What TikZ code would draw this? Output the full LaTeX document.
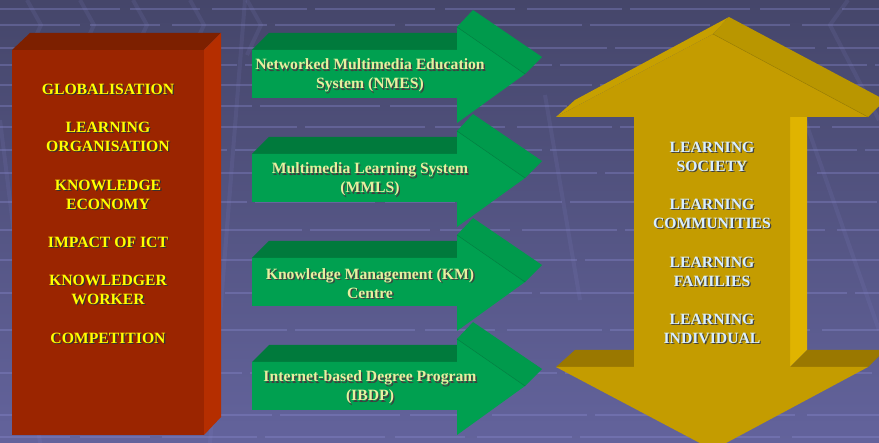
\documentclass[tikz,border=0pt]{standalone}
\usepackage{fontspec}
\setmainfont{Liberation Serif}
\definecolor{bgtop}{HTML}{45466A}
\definecolor{bgbot}{HTML}{63639C}
\definecolor{gridc}{HTML}{8A8AD0}
\definecolor{redfront}{HTML}{9B2500}
\definecolor{redtop}{HTML}{7D2000}
\definecolor{redside}{HTML}{B52E00}
\definecolor{grfront}{HTML}{00A050}
\definecolor{grtop}{HTML}{007A3C}
\definecolor{grside}{HTML}{009A4C}
\definecolor{yefront}{HTML}{C49C00}
\definecolor{yeleft}{HTML}{C7A000}
\definecolor{yeright}{HTML}{B99600}
\definecolor{yeside}{HTML}{E0B400}
\definecolor{yelow}{HTML}{9A7800}
\definecolor{redtxt}{HTML}{FFFF00}
\definecolor{grtxt}{HTML}{E6F0A0}
\definecolor{yetxt}{HTML}{D8EEFF}
\newcommand\shtxt[5]{%
  \node[txt,text=#4,xshift=1.3pt,yshift=-1.3pt] at (#2) {#5};
  \node[txt,text=#3] (#1) at (#2) {#5};}
\begin{document}
\begin{tikzpicture}[x=1pt,y=-1pt,
  txt/.style={font=\bfseries\fontsize{15.7}{19}\selectfont,align=center,inner sep=0pt,anchor=center},
  gridline/.style={line width=2.4pt,draw=gridc,draw opacity=0.35},
  diagline/.style={line width=4pt,draw=gridc,draw opacity=0.12}]
\useasboundingbox (0,0) rectangle (879,443);
% background
\shade[top color=bgtop,bottom color=bgbot] (0,0) rectangle (879,443);
\foreach \yy/\ph in {9/0,25/40,48/15,65/70,85/30,106/55,127/10,150/80,173/25,202/60,230/5,260/45,293/90,330/20,373/65,415/35,437/50}{
  \draw[gridline,dash pattern=on 120pt off 10pt on 70pt off 12pt on 95pt off 8pt,dash phase=\ph pt] (0,\yy) -- (879,\yy);
}
\foreach \xx in {27,80,133,190,247}{
  \draw[diagline] (\xx,0) -- (\xx+14,25) -- (\xx,55);
}
\draw[diagline] (545,95) -- (580,300);
\draw[diagline] (848,0) -- (830,25) -- (879,120);
\draw[diagline] (805,120) -- (879,330);
\draw[diagline] (245,0) -- (210,443);
\draw[diagline] (0,120) -- (40,443);
% red box
\fill[redtop] (12,50) -- (30,33) -- (221,33) -- (204,50) -- cycle;
\fill[redside] (204,50) -- (221,33) -- (221,417) -- (204,435) -- cycle;
\fill[redfront] (12,50) rectangle (204,435);
\shtxt{r1}{108,89}{redtxt}{black!80}{GLOBALISATION}
\shtxt{r2}{108,136.5}{redtxt}{black!80}{LEARNING\\ORGANISATION}
\shtxt{r3}{108,194.5}{redtxt}{black!80}{KNOWLEDGE\\ECONOMY}
\shtxt{r4}{108,242}{redtxt}{black!80}{IMPACT OF ICT}
\shtxt{r5}{108,290}{redtxt}{black!80}{KNOWLEDGER\\WORKER}
\shtxt{r6}{108,338}{redtxt}{black!80}{COMPETITION}
% green arrows
\foreach \o in {0,104,208,312}{
\begin{scope}[shift={(0,\o)}]
  \fill[grtop] (252,50) -- (269,33) -- (457,33) -- (457,50) -- cycle;
  \fill[grside] (457,27) -- (473,10) -- (542,57) -- (525,74) -- cycle;
  \fill[grfront] (252,50) -- (457,50) -- (457,27) -- (525,74) -- (457,123) -- (457,98) -- (252,98) -- cycle;
  \draw[grtop!80!grfront,line width=0.5pt] (457,27) -- (525,74);
\end{scope}
}
\shtxt{g1}{370,75.5}{grtxt}{black!75}{Networked Multimedia Education\\System (NMES)}
\shtxt{g2}{370,179.5}{grtxt}{black!75}{Multimedia Learning System\\(MMLS)}
\shtxt{g3}{370,283.5}{grtxt}{black!75}{Knowledge Management (KM)\\Centre}
\shtxt{g4}{370,387.5}{grtxt}{black!75}{Internet-based Degree Program\\(IBDP)}
% yellow double arrow
\fill[yeleft] (556,117) -- (575,100) -- (729,17) -- (713,34) -- cycle;
\fill[yeright] (713,34) -- (729,17) -- (885,100) -- (868,117) -- cycle;
\fill[yeside] (790,117) -- (807,117) -- (807,350) -- (790,367) -- cycle;
\fill[yelow] (556,367) -- (575,350) -- (634,350) -- (634,367) -- cycle;
\fill[yelow] (790,367) -- (807,350) -- (885,350) -- (868,367) -- cycle;
\fill[yefront] (556,117) -- (713,34) -- (868,117) -- (790,117) -- (790,367) -- (868,367) -- (713,450) -- (556,367) -- (634,367) -- (634,117) -- cycle;
\draw[yeright!85!black,line width=0.5pt] (713,34) -- (868,117);
\shtxt{y1}{712,156.5}{yetxt}{black!75}{LEARNING\\SOCIETY}
\shtxt{y2}{712,213.5}{yetxt}{black!75}{LEARNING\\COMMUNITIES}
\shtxt{y3}{712,271.5}{yetxt}{black!75}{LEARNING\\FAMILIES}
\shtxt{y4}{712,329}{yetxt}{black!75}{LEARNING\\INDIVIDUAL}
\end{tikzpicture}
\end{document}
